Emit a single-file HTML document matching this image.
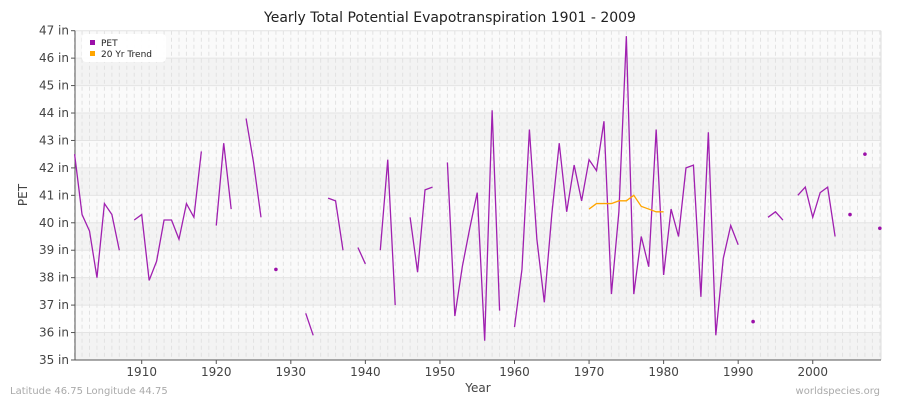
<!DOCTYPE html>
<html><head><meta charset="utf-8"><style>
body{margin:0;background:#fff;font-family:"Liberation Sans","DejaVu Sans",sans-serif}
</style></head><body>
<svg id="s" width="900" height="400" xmlns="http://www.w3.org/2000/svg" font-family="DejaVu Sans, Liberation Sans, sans-serif"></svg>
<script>
const s=document.getElementById('s');
const X=y=>141.7+(y-1910)*7.456, Y=v=>30.7+(47-v)*27.44;
let h='';
const L=75,R=881,T=30.7,B=360;
h+=`<rect x="${L}" y="${T}" width="${R-L}" height="${B-T}" fill="#fafafa"/>`;
for(let v=35;v<47;v++){ if(v%2==1) h+=`<rect x="${L}" y="${Y(v+1)}" width="${R-L}" height="27.44" fill="#f3f3f3"/>`;}
for(let y=1901;y<=2009;y++){h+=`<line x1="${X(y)}" x2="${X(y)}" y1="${T}" y2="${B}" stroke="#e2e2e2" stroke-width="1" stroke-dasharray="4,3"/>`;}
for(let v=35;v<=47;v++){h+=`<line x1="${L}" x2="${R}" y1="${Y(v)}" y2="${Y(v)}" stroke="#e4e4e4"/>`;
h+=`<line x1="${L-4}" x2="${L}" y1="${Y(v)}" y2="${Y(v)}" stroke="#555"/>`;
h+=`<text x="${L-6}" y="${Y(v)+4}" font-size="12" fill="#444" text-anchor="end">${v} in</text>`;}
h+=`<line x1="${R}" x2="${R}" y1="${T}" y2="${B}" stroke="#ddd"/>`;
h+=`<line x1="${L}" x2="${L}" y1="${T}" y2="${B}" stroke="#555"/><line x1="${L}" x2="${R}" y1="${B}" y2="${B}" stroke="#555"/>`;
for(let y=1910;y<=2000;y+=10){h+=`<line x1="${X(y)}" x2="${X(y)}" y1="${B}" y2="${B+4}" stroke="#555"/><text x="${X(y)}" y="${B+16}" font-size="12" fill="#444" text-anchor="middle">${y}</text>`;}
const d={1901:42.5,1902:40.3,1903:39.7,1904:38.0,1905:40.7,1906:40.3,1907:39.0,1909:40.1,1910:40.3,1911:37.9,1912:38.6,1913:40.1,1914:40.1,1915:39.4,1916:40.7,1917:40.2,1918:42.6,1920:39.9,1921:42.9,1922:40.5,1924:43.8,1925:42.2,1926:40.2,1928:38.3,1932:36.7,1933:35.9,1935:40.9,1936:40.8,1937:39.0,1939:39.1,1940:38.5,1942:39.0,1943:42.3,1944:37.0,1946:40.2,1947:38.2,1948:41.2,1949:41.3,1951:42.2,1952:36.6,1953:38.4,1954:39.8,1955:41.1,1956:35.7,1957:44.1,1958:36.8,1960:36.2,1961:38.3,1962:43.4,1963:39.4,1964:37.1,1965:40.3,1966:42.9,1967:40.4,1968:42.1,1969:40.8,1970:42.3,1971:41.9,1972:43.7,1973:37.4,1974:40.4,1975:46.8,1976:37.4,1977:39.5,1978:38.4,1979:43.4,1980:38.1,1981:40.5,1982:39.5,1983:42.0,1984:42.1,1985:37.3,1986:43.3,1987:35.9,1988:38.7,1989:39.9,1990:39.2,1992:36.4,1994:40.2,1995:40.4,1996:40.1,1998:41.0,1999:41.3,2000:40.2,2001:41.1,2002:41.3,2003:39.5,2005:40.3,2007:42.5,2009:39.8};
let seg=[];
function flush(){ if(seg.length==1){h+=`<circle cx="${seg[0][0]}" cy="${seg[0][1]}" r="1.8" fill="#9b10a8"/>`;} else if(seg.length>1){h+=`<polyline fill="none" stroke="#a020b0" stroke-width="1.3" points="${seg.map(p=>p.join(',')).join(' ')}"/>`;} seg=[];}
for(let y=1901;y<=2009;y++){ if(d[y]!==undefined) seg.push([X(y),Y(d[y])]); else flush(); } flush();
const t=[40.5,40.7,40.7,40.7,40.8,40.8,41.0,40.6,40.5,40.4,40.4];
h+=`<polyline fill="none" stroke="#ffa500" stroke-width="1.3" points="${t.map((v,i)=>X(1970+i)+','+Y(v)).join(' ')}"/>`;
h+=`<rect x="82" y="34" width="84" height="28" rx="4" fill="#fff" opacity="0.95"/>`;
h+=`<rect x="90" y="40" width="5" height="5" fill="#9b10a8"/><text x="101" y="46" font-size="9" fill="#222">PET</text>`;
h+=`<rect x="90" y="51" width="5" height="5" fill="#ffa500"/><text x="101" y="57" font-size="9" fill="#222">20 Yr Trend</text>`;
h+=`<text x="450" y="22" font-size="14" fill="#222" text-anchor="middle">Yearly Total Potential Evapotranspiration 1901 - 2009</text>`;
h+=`<text x="478" y="392" font-size="12" fill="#444" text-anchor="middle">Year</text>`;
h+=`<text transform="translate(27,195) rotate(-90)" font-size="12" fill="#444" text-anchor="middle">PET</text>`;
h+=`<text x="10" y="394" font-size="10" fill="#aaa">Latitude 46.75 Longitude 44.75</text>`;
h+=`<text x="880" y="394" font-size="10" fill="#aaa" text-anchor="end">worldspecies.org</text>`;
s.innerHTML=h;
</script>
</body></html>
